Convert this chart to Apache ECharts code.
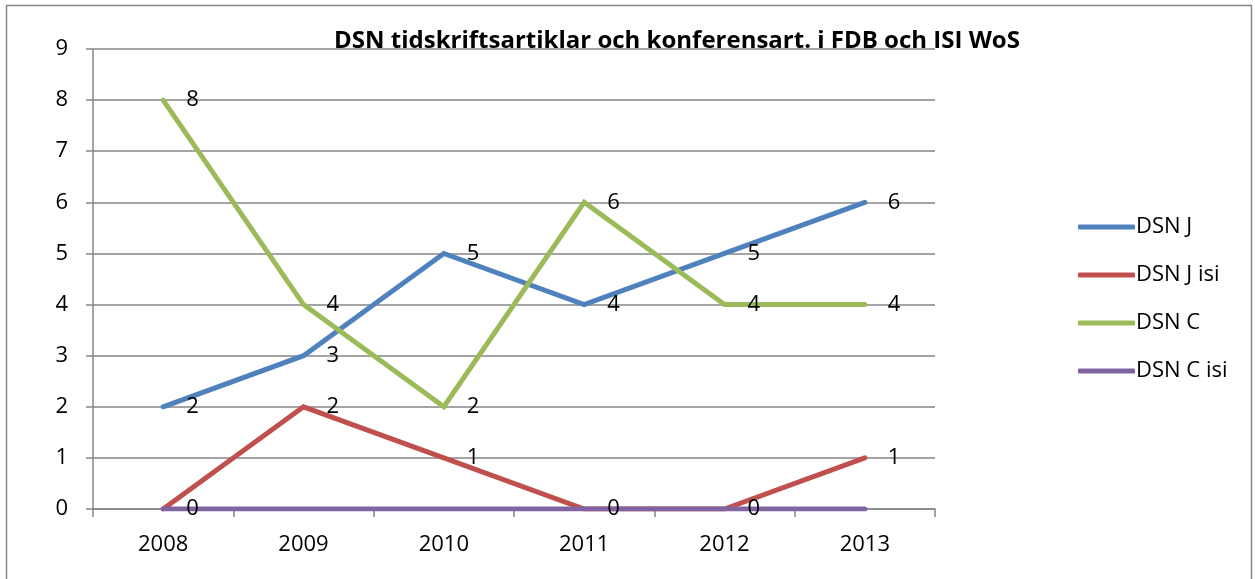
<!DOCTYPE html>
<html>
<head>
<meta charset="utf-8">
<script src="https://cdn.jsdelivr.net/npm/echarts@6/dist/echarts.min.js"></script>
<style>html,body{margin:0;padding:0;background:#fff}#c{width:1255px;height:579px}</style>
</head>
<body>
<div id="c"></div>
<script>
const years = ['2008','2009','2010','2011','2012','2013'];
const dsnJ = [2,3,5,4,5,6];
const dsnJisi = [0,2,1,0,0,1];
const dsnC = [8,4,2,6,4,4];
const dsnCisi = [0,0,0,0,0,0];
const seriesNames = ['DSN J','DSN J isi','DSN C','DSN C isi'];
const colors = ['#4F81BD','#C0504D','#9BBB59','#8064A2'];
const FONT = 'Open Sans';
const FS = 22;

const chart = echarts.init(document.getElementById('c'));
function mk(name, data, color, showLabel){
  return {
    name, type:'line', data, symbol:'circle', symbolSize:0.01, showSymbol:true, smooth:false,
    lineStyle:{color, width:5, cap:'round', join:'miter'},
    itemStyle:{color},
    label:{show:showLabel, position:'right', distance:23, offset:[0,3], color:'#000', fontSize:FS, fontFamily:FONT},
    labelLayout:{hideOverlap:false},
    emphasis:{disabled:true}
  };
}
chart.setOption({
  animation:false,
  title:{text:'DSN tidskriftsartiklar och konferensart. i FDB och ISI WoS', left:672, textAlign:'center', top:24,
    textStyle:{fontFamily:FONT, fontWeight:'bold', fontSize:24, color:'#000'}},
  graphic:[{type:'rect', shape:{x:6.5,y:5.5,width:1245,height:600}, style:{fill:'none', stroke:'#868686', lineWidth:1.5}, silent:true}],
  legend:{orient:'vertical', left:1073, top:210, itemWidth:57, itemHeight:5, itemGap:24,
    icon:'roundRect',
    textStyle:{fontFamily:FONT, fontSize:FS, lineHeight:24, color:'#000', padding:[0,0,0,-4]},
    data:seriesNames},
  grid:{left:93, right:320, top:49, bottom:70},
  xAxis:{type:'category', data:years, boundaryGap:true,
    axisLine:{lineStyle:{color:'#868686', width:1.5}},
    axisTick:{show:true, length:8, lineStyle:{color:'#868686', width:1.5}},
    axisLabel:{fontFamily:FONT, fontSize:FS, color:'#000', margin:25}},
  yAxis:{type:'value', min:0, max:9, interval:1,
    axisLine:{show:true, lineStyle:{color:'#868686', width:1.5}},
    axisTick:{show:true, length:7, lineStyle:{color:'#868686', width:1.5}},
    splitLine:{lineStyle:{color:'#868686', width:1.5}},
    axisLabel:{fontFamily:FONT, fontSize:FS, color:'#000', margin:25}},
  series:[
    mk(seriesNames[0], dsnJ, colors[0], true),
    mk(seriesNames[1], dsnJisi, colors[1], true),
    mk(seriesNames[2], dsnC, colors[2], true),
    mk(seriesNames[3], dsnCisi, colors[3], false)
  ]
});
</script>
</body>
</html>
